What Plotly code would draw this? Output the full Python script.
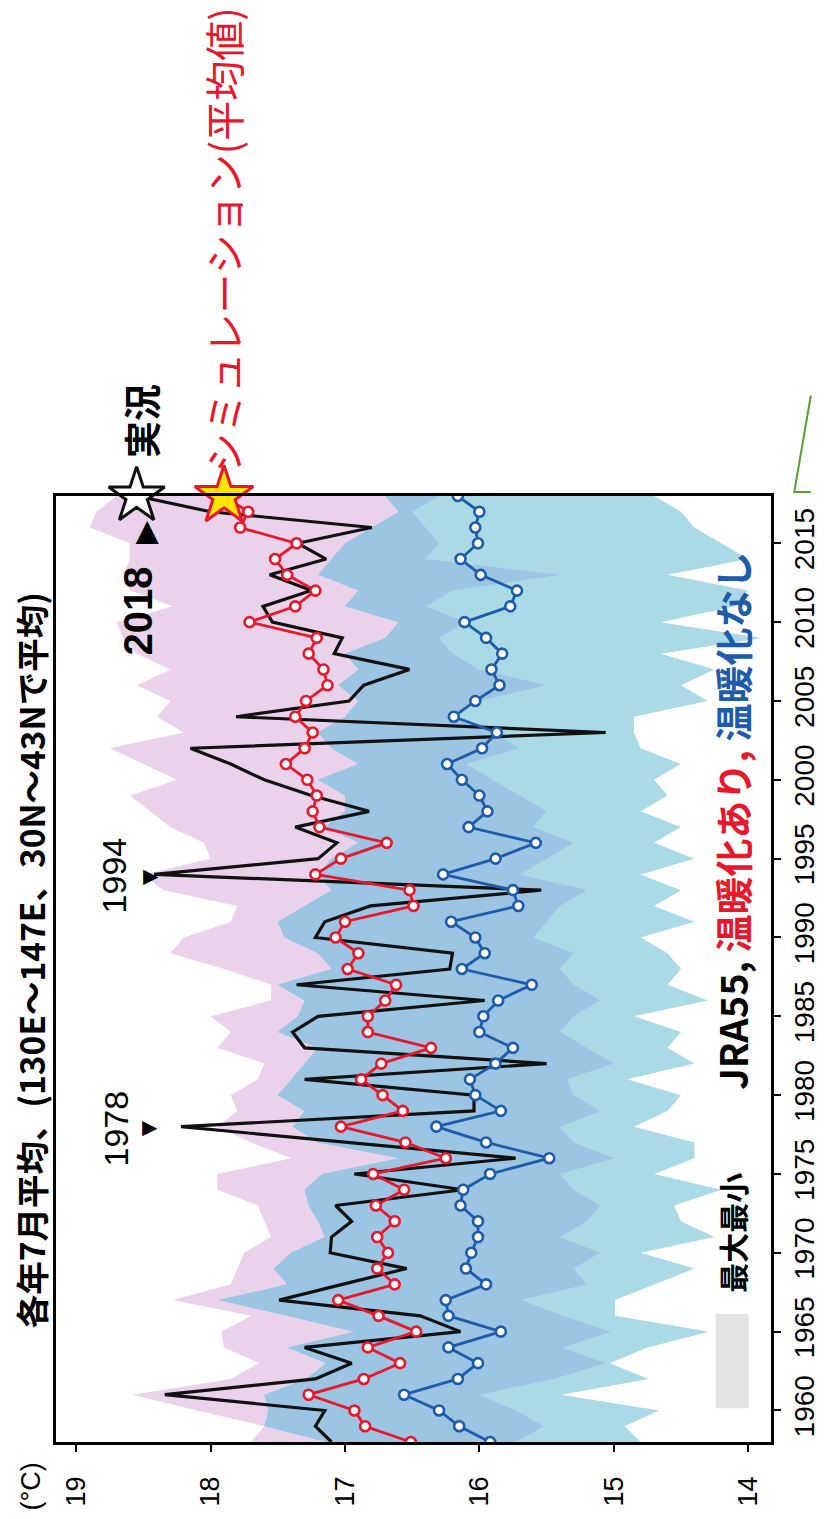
import plotly.graph_objects as go

# Years 1958-2018 (July means)
years = list(range(1958, 2019))

# JRA55 reanalysis (black)
jra55 = [17.10, 17.22, 17.15, 18.34, 17.22, 16.95, 17.30, 16.14, 16.44, 17.49,
         17.02, 16.54, 17.11, 17.10, 16.95, 17.07, 16.12, 16.93, 15.73, 17.00,
         18.22, 16.04, 16.04, 17.30, 15.50, 17.30, 17.39, 17.20, 15.96, 17.36,
         16.22, 16.20, 17.22, 17.15, 16.81, 15.54, 18.42, 17.20, 17.06, 17.37,
         16.82, 17.25, 17.60, 17.85, 18.15, 15.06, 17.81, 16.97, 16.86, 16.52,
         17.08, 17.02, 17.54, 17.61, 17.25, 17.56, 17.14, 17.35, 16.80, 18.00,
         18.55]

# Simulation mean with warming (red)
warm_mean = [16.51, 16.85, 16.93, 17.27, 16.86, 16.59, 16.83, 16.47, 16.75, 17.05,
             16.63, 16.76, 16.68, 16.76, 16.63, 16.77, 16.56, 16.79, 16.25, 16.55,
             17.03, 16.57, 16.72, 16.88, 16.73, 16.36, 16.83, 16.83, 16.70, 16.62,
             16.98, 16.90, 17.07, 17.00, 16.49, 16.52, 17.22, 17.03, 16.69, 17.19,
             17.24, 17.21, 17.28, 17.44, 17.30, 17.24, 17.37, 17.29, 17.13, 17.16,
             17.27, 17.21, 17.71, 17.37, 17.22, 17.43, 17.52, 17.36, 17.78, 17.72,
             17.90]

# Simulation mean without warming (blue)
nowarm_mean = [15.92, 16.15, 16.30, 16.56, 16.16, 16.01, 16.23, 15.84, 16.23, 16.25,
               15.95, 16.10, 16.06, 16.01, 16.01, 16.14, 16.12, 15.92, 15.48, 15.95,
               16.32, 15.84, 16.03, 16.07, 15.88, 15.75, 16.00, 15.97, 15.86, 15.61,
               16.13, 15.96, 16.03, 16.21, 15.71, 15.75, 16.27, 15.88, 15.58, 16.08,
               15.94, 16.00, 16.13, 16.24, 15.98, 15.87, 16.19, 16.03, 15.85, 15.91,
               15.83, 15.95, 16.11, 15.77, 15.72, 15.99, 16.14, 16.01, 16.03, 16.00,
               16.16]

# Ensemble maximum / minimum with warming
warm_max = [17.70, 17.60, 18.10, 18.58, 17.85, 17.64, 17.90, 17.92, 17.70, 18.28,
            17.85, 17.80, 17.75, 17.55, 17.60, 17.65, 17.95, 17.95, 17.40, 17.70,
            17.95, 17.80, 17.85, 17.65, 17.60, 17.95, 17.85, 18.00, 17.55, 17.55,
            17.90, 18.30, 18.20, 17.85, 17.80, 18.35, 18.50, 18.00, 18.05, 18.30,
            18.45, 18.60, 18.25, 18.50, 18.75, 18.20, 18.40, 18.30, 18.55, 18.30,
            18.55, 18.65, 18.70, 18.28, 18.60, 18.65, 18.60, 18.60, 18.90, 18.85,
            18.70]
warm_min = [15.73, 15.52, 15.73, 16.00, 15.45, 15.06, 15.38, 15.02, 15.38, 15.69,
            15.20, 15.30, 15.10, 15.40, 15.20, 15.10, 15.30, 15.40, 15.00, 15.30,
            15.40, 15.10, 15.30, 15.35, 15.00, 15.20, 15.40, 15.30, 15.10, 15.30,
            15.40, 15.30, 15.60, 15.50, 15.40, 15.20, 15.70, 15.50, 15.30, 15.60,
            15.50, 15.70, 15.90, 16.10, 15.70, 15.90, 16.20, 16.00, 15.50, 16.00,
            16.20, 16.30, 16.10, 16.40, 16.20, 15.40, 16.40, 16.30, 16.40, 16.50,
            16.30]

# Ensemble maximum / minimum without warming
nowarm_max = [17.14, 17.60, 17.57, 17.60, 17.29, 17.14, 17.43, 16.93, 17.43, 17.94,
              17.43, 17.53, 17.40, 17.15, 17.20, 17.27, 17.30, 17.17, 16.60, 17.20,
              17.39, 17.30, 17.50, 17.40, 17.30, 17.20, 17.50, 17.35, 17.30, 17.50,
              17.10, 17.20, 17.45, 17.50, 17.30, 17.10, 17.20, 17.10, 16.90, 17.15,
              17.00, 17.00, 17.20, 16.90, 17.10, 17.20, 17.00, 16.90, 17.05, 16.90,
              17.00, 16.70, 16.60, 17.00, 16.90, 17.20, 17.10, 17.00, 16.80, 16.60,
              16.70]
nowarm_min = [14.80, 14.92, 14.66, 15.39, 14.74, 15.03, 14.75, 14.29, 14.99, 14.99,
              14.70, 14.40, 14.80, 14.25, 14.50, 14.55, 14.20, 14.70, 14.40, 14.40,
              14.85, 14.60, 14.50, 14.90, 14.40, 14.60, 14.50, 14.85, 14.30, 14.60,
              14.50, 14.60, 14.80, 14.40, 14.70, 14.50, 14.80, 14.40, 14.70, 14.50,
              14.80, 14.60, 14.70, 14.50, 14.80, 14.85, 14.85, 14.30, 14.50, 14.25,
              14.65, 13.90, 14.65, 14.10, 14.00, 14.60, 14.00, 14.20, 14.40, 14.50,
              14.70]

temp_ticks = [14, 15, 16, 17, 18, 19]
year_ticks = [1960, 1965, 1970, 1975, 1980, 1985, 1990, 1995, 2000, 2005, 2010, 2015]

PINK = "#EAD3EA"
CYAN = "#AADAE6"
MID = "#9CC5E4"
RED = "#E8172B"
BLUE = "#1E5BAA"
JP = "Noto Sans CJK JP"
NUM = "Liberation Sans, Arial, sans-serif"

rev = years[::-1]
# overlap of the two ensemble ranges
ov_hi = [min(a, b) for a, b in zip(warm_max, nowarm_max)]
ov_lo = [max(a, b) for a, b in zip(warm_min, nowarm_min)]

fig = go.Figure()
fig.add_trace(go.Scatter(x=warm_max + warm_min[::-1], y=years + rev, fill="toself",
                         fillcolor=PINK, line=dict(width=0), mode="lines",
                         hoverinfo="skip", showlegend=False))
fig.add_trace(go.Scatter(x=nowarm_max + nowarm_min[::-1], y=years + rev, fill="toself",
                         fillcolor=CYAN, line=dict(width=0), mode="lines",
                         hoverinfo="skip", showlegend=False))
fig.add_trace(go.Scatter(x=ov_hi + ov_lo[::-1], y=years + rev, fill="toself",
                         fillcolor=MID, line=dict(width=0), mode="lines",
                         hoverinfo="skip", showlegend=False))

fig.add_trace(go.Scatter(x=jra55, y=years, mode="lines",
                         line=dict(color="#111111", width=3.2), showlegend=False))
fig.add_trace(go.Scatter(x=nowarm_mean, y=years, mode="lines+markers",
                         line=dict(color=BLUE, width=2.8),
                         marker=dict(symbol="circle", size=10, color="white",
                                     line=dict(color=BLUE, width=2.6)),
                         showlegend=False))
fig.add_trace(go.Scatter(x=warm_mean, y=years, mode="lines+markers",
                         line=dict(color=RED, width=2.8),
                         marker=dict(symbol="circle", size=10, color="white",
                                     line=dict(color=RED, width=2.6)),
                         showlegend=False))

# 2018 markers: observed (white star) and simulated mean (yellow star)
fig.add_trace(go.Scatter(x=[jra55[-1]], y=[years[-1]], mode="markers", cliponaxis=False,
                         marker=dict(symbol="star", size=42, color="white",
                                     line=dict(color="#111111", width=3)),
                         showlegend=False))
fig.add_trace(go.Scatter(x=[warm_mean[-1]], y=[years[-1]], mode="markers", cliponaxis=False,
                         marker=dict(symbol="star", size=44, color="#FFE600",
                                     line=dict(color=RED, width=3)),
                         showlegend=False))

fig.update_xaxes(range=[19.15, 13.83], tickvals=temp_ticks, ticks="outside", ticklen=7,
                 tickwidth=2, tickcolor="black", tickangle=-90, ticklabelstandoff=14,
                 tickfont=dict(family=NUM, size=27, color="black"),
                 showline=True, linecolor="black", linewidth=2.5, mirror=True,
                 showgrid=False, zeroline=False)
fig.update_yaxes(range=[1958, 2018], tickvals=year_ticks, side="right", ticks="outside",
                 ticklen=7, tickwidth=2, tickcolor="black", tickangle=-90,
                 tickfont=dict(family=NUM, size=28, color="black"),
                 showline=True, linecolor="black", linewidth=2.5, mirror=True,
                 showgrid=False, zeroline=False)

ann = []
def label(text, x, y, size, color="black", family=JP, bold=False):
    t = f"<b>{text}</b>" if bold else text
    ann.append(dict(text=t, x=x, y=y, xref="paper", yref="paper", showarrow=False,
                    textangle=-90, font=dict(family=family, size=size, color=color),
                    xanchor="center", yanchor="middle"))

W, H = 832, 1519
L, R, T, B = 56, 39, 496, 70
pw, ph = W - L - R, H - T - B
def px(xp):
    return (xp - L) / pw
def py(yp):
    return (H - B - yp) / ph

label("各年7月平均、(130E～147E、30N～43Nで平均)", px(30), py(964), 33.5, bold=True)
label("(°C)", px(30), py(1494), 27, family=NUM)
label("1978", px(118), py(1133), 34, family=NUM)
label("▼", px(151), py(1133), 26, family=NUM)
label("1994", px(116), py(878), 34, family=NUM)
label("▼", px(152), py(880), 26, family=NUM)
label("2018", px(141), py(612), 40, family=NUM, bold=True)
label("▶", px(147), py(533), 30, family=NUM)
label("実況", px(143), py(420), 37, bold=True)
label("シミュレーション(平均値)", px(228), py(238), 40, color=RED)
label("最大最小", px(752), py(1238), 30, bold=True)
label("<span style='color:black'>JRA55,</span> <span style='color:#E8172B'>温暖化あり,</span> "
      "<span style='color:#1E5BAA'>温暖化なし</span>", px(752), py(823), 38, bold=True)

shapes = [
    dict(type="rect", xref="paper", yref="paper", x0=px(736), x1=px(770),
         y0=py(1415), y1=py(1320), fillcolor="#E3E3E1", line=dict(width=0)),
    dict(type="path", xref="paper", yref="paper",
         path=f"M {px(834)} {py(395)} L {px(817)} {py(492)} L {px(834)} {py(492)}",
         line=dict(color="#58A030", width=2)),
]

fig.update_layout(width=W, height=H, margin=dict(l=L, r=R, t=T, b=B),
                  paper_bgcolor="white", plot_bgcolor="white",
                  annotations=ann, shapes=shapes, showlegend=False)

fig.write_html("out.html")
